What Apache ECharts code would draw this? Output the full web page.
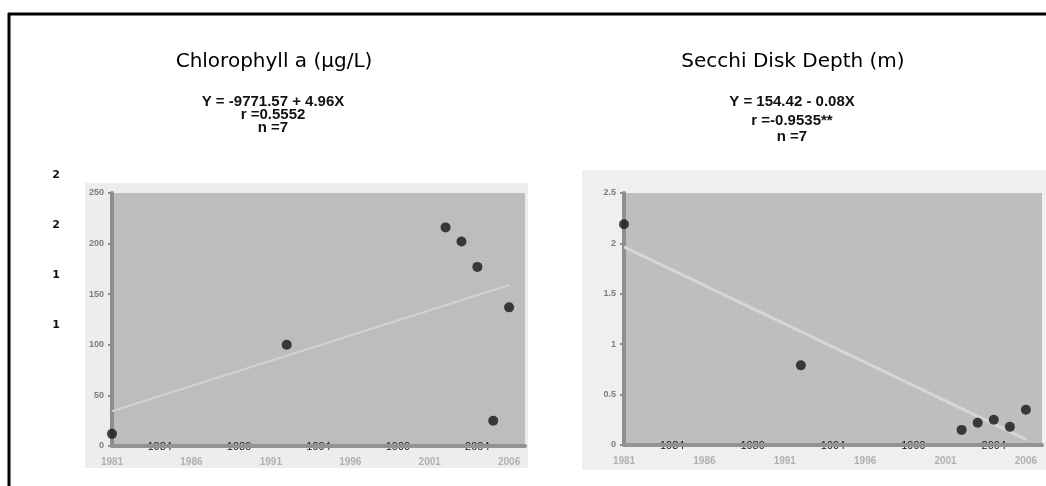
<!DOCTYPE html>
<html>
<head>
<meta charset="utf-8">
<script src="https://cdn.jsdelivr.net/npm/echarts@6/dist/echarts.min.js"></script>
<style>
html,body{margin:0;padding:0;background:#fff;}
#chart{width:1046px;height:486px;}
</style>
</head>
<body>
<div id="chart"></div>
<script>
// ---- data ----
const years = [1981, 1992, 2002, 2003, 2004, 2005, 2006];
const chlorophyll = [12, 100, 216, 202, 177, 25, 137];
const secchi = [2.19, 0.79, 0.15, 0.22, 0.25, 0.18, 0.35];
const yearLabels = [1981, 1986, 1991, 1996, 2001, 2006];
const yearLabelsOverlay = [1984, 1989, 1994, 1999, 2004];
const leftTitle = 'Chlorophyll a (µg/L)';
const leftStats = ['Y = -9771.57 + 4.96X', 'r =0.5552', 'n =7'];
const rightTitle = 'Secchi Disk Depth (m)';
const rightStats = ['Y = 154.42 - 0.08X', 'r =-0.9535**', 'n =7'];
const ghostLabels = ['2', '2', '1', '1'];

function fit(xs, ys) {
  const n = xs.length;
  const mx = xs.reduce((a, b) => a + b, 0) / n;
  const my = ys.reduce((a, b) => a + b, 0) / n;
  let sxy = 0, sxx = 0;
  for (let i = 0; i < n; i++) { sxy += (xs[i] - mx) * (ys[i] - my); sxx += (xs[i] - mx) ** 2; }
  const b = sxy / sxx, a = my - b * mx;
  const x0 = Math.min(...xs), x1 = Math.max(...xs);
  return [[x0, a + b * x0], [x1, a + b * x1]];
}
const pts = (ys) => years.map((y, i) => [y, ys[i]]);

const chart = echarts.init(document.getElementById('chart'), null, {renderer: 'canvas'});

function xMain(gi) {
  return {
    gridIndex: gi, type: 'value', min: 1981, max: 2007, z: 3,
    axisLine: {show: true, onZero: false, lineStyle: {color: '#939393', width: 4}},
    axisTick: {show: false}, splitLine: {show: false},
    axisLabel: {customValues: yearLabels, formatter: v => String(v), color: '#b0b0b0', fontSize: 10, fontWeight: 'bold',
      fontFamily: 'Liberation Sans', margin: 11}
  };
}
function xOverlay(gi) {
  return {
    gridIndex: gi, type: 'value', min: 1981, max: 2007, z: 1, position: 'bottom',
    axisLine: {show: false}, axisTick: {show: false}, splitLine: {show: false},
    axisLabel: {customValues: yearLabelsOverlay, formatter: v => String(v), color: '#1a1a1a', fontSize: 11,
      fontFamily: 'Liberation Sans', margin: -5}
  };
}
function yAx(gi, max, interval) {
  return {
    gridIndex: gi, type: 'value', min: 0, max: max, interval: interval,
    axisLine: {show: true, onZero: false, lineStyle: {color: '#8e8e8e', width: 4}},
    axisTick: {show: true, length: 4, lineStyle: {color: '#8e8e8e', width: 2}},
    splitLine: {show: false},
    axisLabel: {color: '#7c7c7c', fontSize: 9, fontWeight: 'bold', fontFamily: 'Liberation Sans', margin: 8}
  };
}

const graphics = [
  // panels behind plots
  {type: 'rect', z: -10, shape: {x: 85, y: 183, width: 443, height: 285}, style: {fill: '#ededed'}},
  {type: 'rect', z: -10, shape: {x: 582, y: 170, width: 464, height: 300}, style: {fill: '#efefef'}},
  // frame
  {type: 'line', z: 50, shape: {x1: 8, y1: 14, x2: 1046, y2: 14}, style: {stroke: '#000', lineWidth: 3}},
  {type: 'line', z: 50, shape: {x1: 9, y1: 13, x2: 9, y2: 486}, style: {stroke: '#000', lineWidth: 3}},
  // titles
  {type: 'text', z: 50, x: 274, y: 62, style: {text: leftTitle, font: '20px "DejaVu Sans"', fill: '#000', align: 'center', verticalAlign: 'middle'}},
  {type: 'text', z: 50, x: 793, y: 62, style: {text: rightTitle, font: '20px "DejaVu Sans"', fill: '#000', align: 'center', verticalAlign: 'middle'}}
];
const leftY = [102, 115, 128], rightY = [102, 121, 137];
leftStats.forEach((t, i) => graphics.push({type: 'text', z: 50, x: 273, y: leftY[i],
  style: {text: t, font: 'bold 15px "Liberation Sans Narrow", "Liberation Sans"', fill: '#111', align: 'center', verticalAlign: 'middle'}}));
rightStats.forEach((t, i) => graphics.push({type: 'text', z: 50, x: 792, y: rightY[i],
  style: {text: t, font: 'bold 15px "Liberation Sans Narrow", "Liberation Sans"', fill: '#111', align: 'center', verticalAlign: 'middle'}}));
const ghostY = [175, 225, 275, 325];
ghostLabels.forEach((t, i) => graphics.push({type: 'text', z: 50, x: 56, y: ghostY[i],
  style: {text: t, font: 'bold 11px "DejaVu Sans"', fill: '#111', align: 'center', verticalAlign: 'middle'}}));

const option = {
  animation: false,
  backgroundColor: '#ffffff',
  graphic: graphics,
  grid: [
    {left: 112, top: 193, width: 413, height: 253, show: true, backgroundColor: '#bdbdbd', borderWidth: 0},
    {left: 624, top: 193, width: 418, height: 252, show: true, backgroundColor: '#bebebe', borderWidth: 0}
  ],
  xAxis: [xMain(0), xMain(1), xOverlay(0), xOverlay(1)],
  yAxis: [yAx(0, 250, 50), yAx(1, 2.5, 0.5)],
  series: [
    {type: 'line', xAxisIndex: 0, yAxisIndex: 0, data: fit(years, chlorophyll), showSymbol: false,
      lineStyle: {color: '#d2d2d2', width: 2}, z: 2},
    {type: 'scatter', xAxisIndex: 0, yAxisIndex: 0, data: pts(chlorophyll), symbolSize: 10,
      itemStyle: {color: '#161616'}, z: 3},
    {type: 'line', xAxisIndex: 1, yAxisIndex: 1, data: fit(years, secchi), showSymbol: false,
      lineStyle: {color: '#d6d6d6', width: 3}, z: 2},
    {type: 'scatter', xAxisIndex: 1, yAxisIndex: 1, data: pts(secchi), symbolSize: 10,
      itemStyle: {color: '#161616'}, z: 3}
  ]
};
chart.setOption(option);
</script>
</body>
</html>
